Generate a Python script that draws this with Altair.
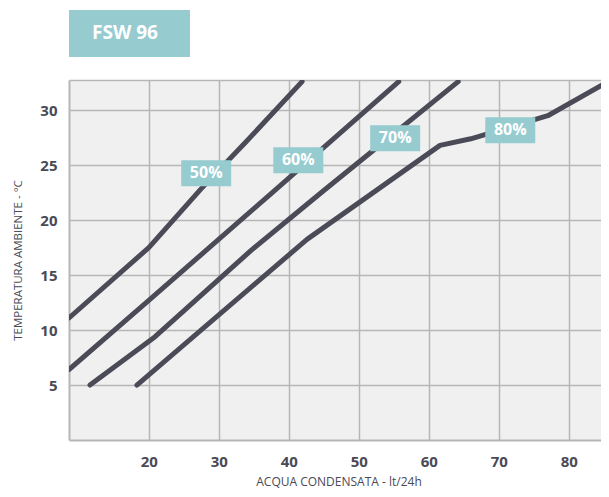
import altair as alt
import pandas as pd

# ---- data ----
series_names = ["50%", "60%", "70%", "80%"]
x_50 = [8.6, 20.0, 27.4, 34.0, 41.9]
y_50 = [11.1, 17.5, 22.8, 27.2, 32.6]
x_60 = [8.6, 20.0, 37.8, 55.7]
y_60 = [6.4, 12.7, 22.6, 32.6]
x_70 = [11.6, 20.9, 34.7, 45.0, 64.2]
y_70 = [5.0, 9.4, 17.3, 22.7, 32.6]
x_80 = [18.3, 42.6, 61.6, 66.0, 77.0, 85.6]
y_80 = [5.0, 18.25, 26.8, 27.4, 29.5, 32.6]

label_text = ["50%", "60%", "70%", "80%"]
label_x = [28.2, 41.36, 55.2, 71.64]
label_y = [24.27, 25.45, 27.45, 28.18]

x_ticks = [20, 30, 40, 50, 60, 70, 80]
y_ticks = [5, 10, 15, 20, 25, 30]
x_domain = [8.6, 84.6]
y_domain = [0, 32.75]

header_text = ["FSW 96"]

# ---- build tables ----
rows = []
for name, xs, ys in zip(series_names, [x_50, x_60, x_70, x_80], [y_50, y_60, y_70, y_80]):
    for i, (a, b) in enumerate(zip(xs, ys)):
        rows.append({"serie": name, "order": i, "x": a, "y": b})
df = pd.DataFrame(rows)
lab = pd.DataFrame({"x": label_x, "y": label_y, "text": label_text})
hdr = pd.DataFrame({"t": header_text})

TEAL = "#96cbd0"
LINE = "#4a4b57"
TXT = "#4a4a55"
GRID = "#b6b6b6"
FONT = "Open Sans"

xscale = alt.Scale(domain=x_domain, nice=False, zero=False)
yscale = alt.Scale(domain=y_domain, nice=False, zero=False)

x_axis = alt.Axis(
    values=x_ticks, grid=True, gridColor=GRID, gridWidth=1.5,
    domain=True, domainColor=GRID, domainWidth=2, ticks=False,
    labelFont=FONT, labelFontSize=15, labelFontWeight="bold", labelColor=TXT,
    labelPadding=14, title="ACQUA CONDENSATA - lt/24h", titleFont=FONT,
    titleFontSize=12, titleFontWeight="normal", titleColor=TXT,
    titleX=269.5, titleY=41, titleBaseline="middle", titleAlign="center",
)
y_axis = alt.Axis(
    values=y_ticks + [y_domain[1]], grid=True, gridColor=GRID, gridWidth=1.5,
    labelExpr="datum.value > 31 ? '' : datum.label",
    domain=True, domainColor=GRID, domainWidth=2, ticks=False,
    labelFont=FONT, labelFontSize=15, labelFontWeight="bold", labelColor=TXT,
    labelPadding=12, title="TEMPERATURA AMBIENTE - °C", titleFont=FONT,
    titleFontSize=11.5, titleFontWeight="normal", titleColor=TXT,
    titleX=-51, titleY=180, titleAngle=270, titleAlign="center", titleBaseline="middle",
)

lines = alt.Chart(df).mark_line(
    color=LINE, strokeWidth=5, strokeCap="round", strokeJoin="round", clip=True
).encode(
    x=alt.X("x:Q", scale=xscale, axis=x_axis),
    y=alt.Y("y:Q", scale=yscale, axis=y_axis),
    detail="serie:N",
    order="order:Q",
)

boxes = alt.Chart(lab).mark_rect(width=50, height=26, color=TEAL).encode(
    x=alt.X("x:Q", scale=xscale), y=alt.Y("y:Q", scale=yscale)
)
texts = alt.Chart(lab).mark_text(
    color="white", fontWeight="bold", fontSize=16, font=FONT, baseline="middle", align="center"
).encode(x=alt.X("x:Q", scale=xscale), y=alt.Y("y:Q", scale=yscale), text="text:N")

hdr_box = alt.Chart(hdr).mark_rect(color=TEAL).encode(
    x=alt.value(0), x2=alt.value(121), y=alt.value(-70), y2=alt.value(-23)
)
hdr_text = alt.Chart(hdr).mark_text(
    color="white", fontWeight="bold", fontSize=19, font=FONT, align="left", baseline="middle"
).encode(x=alt.value(23), y=alt.value(-47), text="t:N")

chart = alt.layer(lines, boxes, texts, hdr_box, hdr_text).properties(
    width=532, height=360,
    autosize=alt.AutoSizeParams(type="none"),
    padding={"left": 61, "top": 72, "right": 0, "bottom": 49},
    background="white",
).configure_view(fill="#f0f0f0", stroke="transparent")

chart.save("out.html", embed_options={"renderer": "svg", "actions": False})
